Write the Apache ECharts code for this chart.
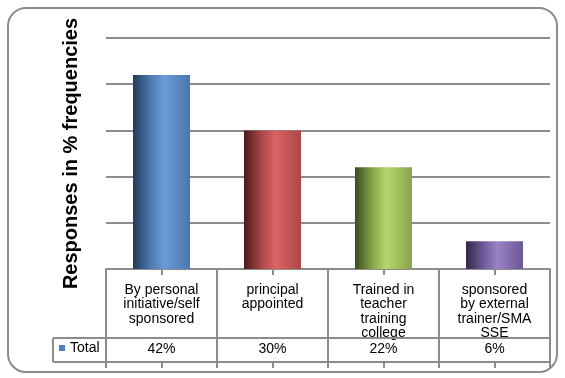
<!DOCTYPE html>
<html>
<head>
<meta charset="utf-8">
<script src="https://cdn.jsdelivr.net/npm/echarts@6/dist/echarts.min.js"></script>
<style>
html,body{margin:0;padding:0;background:#fff;}
#chart{width:565px;height:378px;}
</style>
</head>
<body>
<div id="chart"></div>
<script>
// ---- data ----
var categories = [
  "By personal\ninitiative/self\nsponsored",
  "principal\nappointed",
  "Trained in\nteacher\ntraining\ncollege",
  "sponsored\nby external\ntrainer/SMA\nSSE"
];
var totalValues = [42, 30, 22, 6];
var seriesName = "Total";
var yAxisTitle = "Responses in % frequencies";
var yTicks = [0, 10, 20, 30, 40, 50];

// ---- styling / layout ----
var W = 565, H = 378;
var GL = 106, GR = 15, GT = 38, GB = 109;
var gridColor = '#8c8c8c';
var font = "'Liberation Sans', Arial, sans-serif";
var barGradients = [
  ['#213a5a', '#4b77ac', '#6b9bd8', '#4a76ae'],
  ['#4c1a1a', '#a84646', '#da6464', '#ae4646'],
  ['#3c4c20', '#86a24a', '#b8d66e', '#88a44c'],
  ['#33284a', '#6e5a98', '#9a82c6', '#6c5696']
];
function grad(c) {
  return new echarts.graphic.LinearGradient(0, 0, 1, 0, [
    {offset: 0, color: c[0]},
    {offset: 0.3, color: c[1]},
    {offset: 0.55, color: c[2]},
    {offset: 1, color: c[3]}
  ]);
}

var chart = echarts.init(document.getElementById('chart'), null, {renderer: 'canvas'});

var axisY = H - GB; // baseline y
var plotRight = W - GR;
var band = (plotRight - GL) / categories.length;
var rowTop = 338, rowBottom = 362, tableLeft = 53, tickLen = 6;

var lineStyle = {stroke: gridColor, lineWidth: 2};
var graphics = [];
// outer rounded border
graphics.push({type: 'rect', shape: {x: 8, y: 8, width: 549, height: 364, r: 18},
  style: {fill: 'none', stroke: gridColor, lineWidth: 2}, z: 100});
// column lines of the data table
for (var i = 0; i <= categories.length; i++) {
  var x = Math.round(GL + i * band);
  graphics.push({type: 'line', shape: {x1: x, y1: axisY, x2: x, y2: rowBottom + tickLen},
    style: lineStyle, z: 100});
}
graphics.push({type: 'line', shape: {x1: tableLeft, y1: rowTop, x2: plotRight, y2: rowTop}, style: lineStyle, z: 100});
graphics.push({type: 'line', shape: {x1: tableLeft, y1: rowBottom, x2: plotRight, y2: rowBottom}, style: lineStyle, z: 100});
graphics.push({type: 'line', shape: {x1: tableLeft, y1: rowTop, x2: tableLeft, y2: rowBottom}, style: lineStyle, z: 100});

var option = {
  animation: false,
  backgroundColor: '#fff',
  textStyle: {fontFamily: font},
  grid: {left: GL, right: GR, top: GT, bottom: GB, containLabel: false},
  legend: {
    data: [{name: seriesName, itemStyle: {color: '#4f81bd'}}],
    left: 59, top: 341, padding: 0, icon: 'rect',
    itemWidth: 6, itemHeight: 6, itemGap: 4,
    textStyle: {fontSize: 14, color: '#000', fontFamily: font}
  },
  xAxis: [{
    type: 'category',
    data: categories,
    axisLine: {show: true, lineStyle: {color: gridColor, width: 2}},
    axisTick: {show: true, alignWithLabel: true, length: tickLen, lineStyle: {color: gridColor, width: 2}},
    axisLabel: {interval: 0, margin: 14, fontSize: 14, lineHeight: 14.3, color: '#000', fontFamily: font, verticalAlign: 'top'},
    splitLine: {show: false}
  }, {
    type: 'category',
    position: 'bottom',
    offset: rowBottom - axisY,
    data: totalValues.map(function (v) { return v + '%'; }),
    axisLine: {show: false},
    axisTick: {show: true, alignWithLabel: true, length: tickLen, lineStyle: {color: gridColor, width: 2}},
    axisLabel: {inside: true, interval: 0, margin: 6, fontSize: 14, color: '#000', fontFamily: font},
    splitLine: {show: false}
  }],
  yAxis: {
    type: 'value',
    min: yTicks[0], max: yTicks[yTicks.length - 1], interval: yTicks[1] - yTicks[0],
    axisLine: {show: false}, axisTick: {show: false}, axisLabel: {show: false},
    splitLine: {show: true, lineStyle: {color: gridColor, width: 2}},
    name: yAxisTitle, nameLocation: 'middle', nameGap: 25,
    nameTextStyle: {fontSize: 20, fontWeight: 'bold', color: '#000', fontFamily: font}
  },
  series: [{
    name: seriesName,
    type: 'bar',
    xAxisIndex: 0,
    barWidth: 57,
    itemStyle: {color: '#4f81bd'},
    data: totalValues.map(function (v, i) {
      return {value: v, itemStyle: {color: grad(barGradients[i])}};
    })
  }],
  graphic: graphics
};
chart.setOption(option);
</script>
</body>
</html>
